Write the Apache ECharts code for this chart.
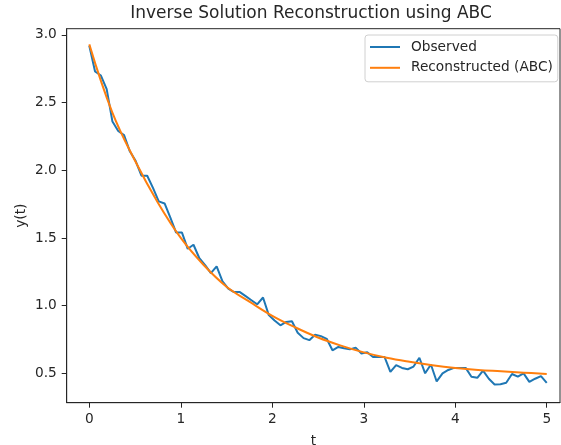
<!DOCTYPE html>
<html>
<head>
<meta charset="utf-8">
<script src="https://cdn.jsdelivr.net/npm/echarts@6/dist/echarts.min.js"></script>
<style>
html,body{margin:0;padding:0;background:#fff;}
#chart{width:561px;height:445px;}
</style>
</head>
<body>
<div id="chart"></div>
<script>
// Observed samples (t, y)
var tObs = [0,0.063,0.127,0.190,0.253,0.316,0.380,0.443,0.506,0.570,0.633,0.696,0.759,0.823,0.886,0.949,1.013,1.076,1.139,1.203,1.266,1.329,1.392,1.456,1.519,1.582,1.646,1.709,1.772,1.835,1.899,1.962,2.025,2.089,2.152,2.215,2.278,2.342,2.405,2.468,2.532,2.595,2.658,2.722,2.785,2.848,2.911,2.975,3.038,3.101,3.165,3.228,3.291,3.354,3.418,3.481,3.544,3.608,3.671,3.734,3.797,3.861,3.924,3.987,4.051,4.114,4.177,4.241,4.304,4.367,4.430,4.494,4.557,4.620,4.684,4.747,4.810,4.873,4.937,5.000];
var yObs = [2.92,2.73,2.70,2.60,2.36,2.29,2.26,2.14,2.07,1.96,1.96,1.87,1.77,1.755,1.65,1.54,1.54,1.42,1.45,1.35,1.30,1.24,1.29,1.18,1.125,1.10,1.10,1.07,1.04,1.01,1.06,0.93,0.89,0.855,0.88,0.885,0.80,0.76,0.745,0.785,0.775,0.755,0.67,0.695,0.685,0.677,0.69,0.647,0.655,0.62,0.62,0.62,0.51,0.56,0.54,0.53,0.55,0.615,0.50,0.565,0.44,0.50,0.525,0.54,0.54,0.54,0.475,0.467,0.52,0.46,0.418,0.42,0.43,0.495,0.475,0.50,0.437,0.46,0.48,0.43];
// Reconstructed (ABC) curve samples
var tRec = [0,0.25,0.5,0.75,1.0,1.25,1.5,1.75,2.0,2.25,2.5,2.75,3.0,3.25,3.5,3.75,4.0,4.25,4.5,4.75,5.0];
var yRec = [2.93,2.43,2.07,1.76,1.50,1.30,1.14,1.03,0.925,0.84,0.765,0.705,0.655,0.615,0.585,0.56,0.54,0.525,0.515,0.505,0.495];
// Tick labels
var xTicks = [0,1,2,3,4,5];
var yTicks = [0.5,1.0,1.5,2.0,2.5,3.0];

function pairs(xs, ys){ return xs.map(function(x,i){ return [x, ys[i]]; }); }

var FONT = 'DejaVu Sans';
var TXT = '#262626';
var chart = echarts.init(document.getElementById('chart'), null, {renderer:'canvas'});
chart.setOption({
  animation: false,
  backgroundColor: '#ffffff',
  title: {
    text: 'Inverse Solution Reconstruction using ABC',
    left: 306, top: 0, textAlign: 'center',
    textStyle: {fontFamily: FONT, fontSize: 17, fontWeight: 'normal', color: TXT}
  },
  grid: {
    left: 66.7, top: 28.7, width: 493.3, height: 374,
    outerBoundsMode: 'none',
    show: true, borderColor: '#262626', borderWidth: 1, backgroundColor: 'transparent',
    containLabel: false
  },
  legend: {
    orient: 'vertical', left: 365, top: 35,
    padding: [4, 5, 6, 5], itemGap: 4.8,
    itemWidth: 30, itemHeight: 2, icon: 'rect',
    backgroundColor: 'rgba(255,255,255,0.8)', borderColor: '#d0d0d0', borderWidth: 1, borderRadius: 3,
    textStyle: {fontFamily: FONT, fontSize: 13.7, color: TXT, padding: [0,0,0,6], lineHeight: 16},
    data: ['Observed', 'Reconstructed (ABC)']
  },
  xAxis: {
    type: 'value', min: -0.247, max: 5.145,
    name: 't', nameLocation: 'middle', nameGap: 32, nameMoveOverlap: false,
    nameTextStyle: {fontFamily: FONT, fontSize: 13.7, color: TXT},
    axisLine: {show: true, onZero: false, lineStyle: {color: '#262626', width: 1}},
    axisTick: {show: true, inside: false, length: 5, lineStyle: {color: '#262626'}, customValues: xTicks},
    axisLabel: {show: true, margin: 10, fontFamily: FONT, fontSize: 13.7, color: TXT, customValues: xTicks,
      formatter: function(v){ return String(Math.round(v)); }},
    splitLine: {show: false}
  },
  yAxis: {
    type: 'value', min: 0.283, max: 3.046,
    name: 'y(t)', nameLocation: 'middle', nameGap: 38, nameRotate: 90, nameMoveOverlap: false,
    nameTextStyle: {fontFamily: FONT, fontSize: 13.7, color: TXT},
    axisLine: {show: true, onZero: false, lineStyle: {color: '#262626', width: 1}},
    axisTick: {show: true, inside: false, length: 5, lineStyle: {color: '#262626'}, customValues: yTicks},
    axisLabel: {show: true, margin: 10, fontFamily: FONT, fontSize: 13.7, color: TXT, customValues: yTicks,
      formatter: function(v){ return v.toFixed(1); }},
    splitLine: {show: false}
  },
  series: [
    {
      name: 'Observed', type: 'line', data: pairs(tObs, yObs),
      showSymbol: false, symbol: 'none', color: '#1f77b4',
      lineStyle: {color: '#1f77b4', width: 2}, z: 2
    },
    {
      name: 'Reconstructed (ABC)', type: 'line', data: pairs(tRec, yRec),
      showSymbol: false, symbol: 'none', smooth: 0.4, color: '#ff7f0e',
      lineStyle: {color: '#ff7f0e', width: 2}, z: 3
    }
  ]
});
</script>
</body>
</html>
